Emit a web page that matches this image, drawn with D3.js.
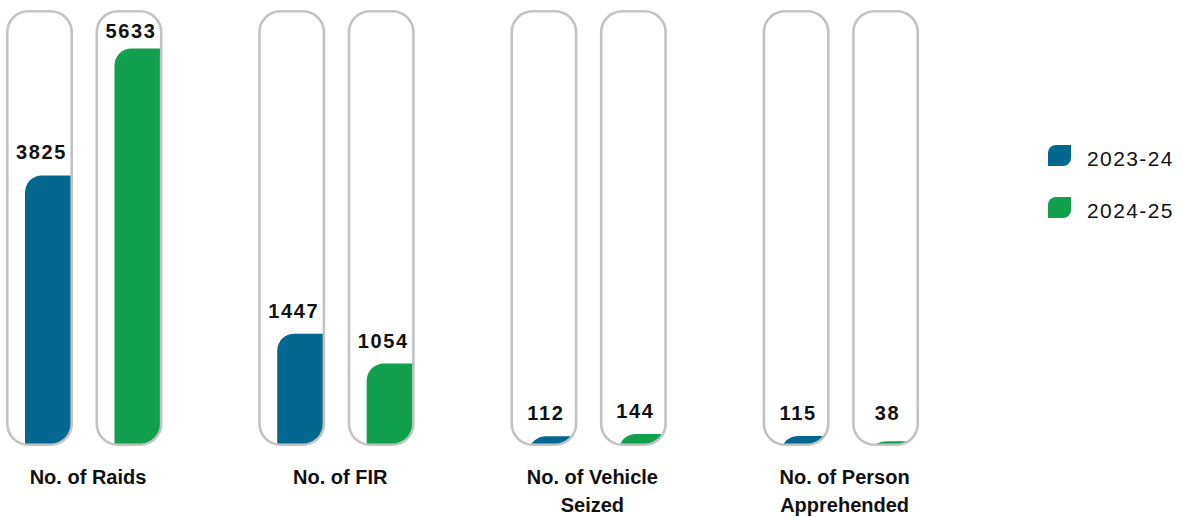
<!DOCTYPE html>
<html>
<head>
<meta charset="utf-8">
<script src="https://cdn.jsdelivr.net/npm/d3@7"></script>
<style>
  body { margin: 0; background: #fff; }
  svg { display: block; font-family: "Liberation Sans", Arial, sans-serif; }
</style>
</head>
<body>
<svg id="chart" width="1182" height="517"></svg>
<script>
// data
const categories = [["No. of Raids"], ["No. of FIR"], ["No. of Vehicle", "Seized"], ["No. of Person", "Apprehended"]];
const years = ["2023-24", "2024-25"];
const values2324 = [3825, 1447, 112, 115];
const values2425 = [5633, 1054, 144, 38];
// each panel has its own scale top
const groupMax = [6180, 5690, 6180, 6180];

const colors = { "2023-24": "#03688f", "2024-25": "#10a04e" };

const svg = d3.select("#chart");

const capW = 67, capR = 21, stroke = 2.6;
const capTop = 10, capBottom = 446;

const x0 = d3.scaleBand()
  .domain(d3.range(categories.length))
  .range([6, 6 + 252.2 * 4]);

const x1 = d3.scaleBand()
  .domain(years)
  .range([0, 156.5])
  .paddingInner(0.251);

// build rows
const rows = [];
categories.forEach((c, i) => {
  rows.push({ g: i, year: "2023-24", value: values2324[i] });
  rows.push({ g: i, year: "2024-25", value: values2425[i] });
});

const yScales = groupMax.map(m => d3.scaleLinear().domain([0, m]).range([capBottom - 2, capTop]));
const cx = d => x0(d.g) + x1(d.year);

const defs = svg.append("defs");

// leaf shape: rounded top-left corner
function leaf(x, y, w, h, rx, ry) {
  ry = Math.min(ry, h);
  return `M${x},${y + h} L${x},${y + ry} A${rx},${ry} 0 0 1 ${x + rx},${y} L${x + w},${y} L${x + w},${y + h} Z`;
}

defs.selectAll("clipPath")
  .data(rows)
  .enter()
  .append("clipPath")
  .attr("id", (d, i) => "clip" + i)
  .append("rect")
  .attr("x", d => cx(d) + stroke / 2)
  .attr("y", capTop + stroke / 2)
  .attr("width", capW - stroke)
  .attr("height", capBottom - capTop - stroke)
  .attr("rx", capR - stroke / 2);

// bars, clipped in capsule
svg.selectAll("path.bar")
  .data(rows)
  .enter()
  .append("path")
  .attr("class", "bar")
  .attr("clip-path", (d, i) => `url(#clip${i})`)
  .attr("fill", d => colors[d.year])
  .attr("d", d => {
    const y = yScales[d.g](d.value);
    const x = cx(d) + 19;
    return leaf(x, y, capW - 19, capBottom + 5 - y, 17, 17);
  });

const cell = svg.selectAll("g.cell")
  .data(rows)
  .enter()
  .append("g")
  .attr("class", "cell")
  .attr("transform", d => `translate(${cx(d)},0)`);

// capsules
cell.append("rect")
  .attr("x", stroke / 2)
  .attr("y", capTop + stroke / 2)
  .attr("width", capW - stroke)
  .attr("height", capBottom - capTop - stroke)
  .attr("rx", capR)
  .attr("fill", "none")
  .attr("stroke", "#c3c3c3")
  .attr("stroke-width", stroke);

// value labels
cell.append("text")
  .attr("x", capW / 2 + 2)
  .attr("y", d => Math.max(38, Math.min(420, yScales[d.g](d.value) - 16)))
  .attr("text-anchor", "middle")
  .attr("font-size", 20)
  .attr("font-weight", 700)
  .attr("letter-spacing", 1.6)
  .attr("fill", "#111")
  .text(d => d.value);

// category labels
const cat = svg.selectAll("text.cat")
  .data(categories)
  .enter()
  .append("text")
  .attr("class", "cat")
  .attr("text-anchor", "middle")
  .attr("font-size", 20)
  .attr("font-weight", 700)
  .attr("fill", "#111")
  .attr("transform", (d, i) => `translate(${x0(i) + 78 + 4},484)`);

cat.selectAll("tspan")
  .data(d => d)
  .enter()
  .append("tspan")
  .attr("x", 0)
  .attr("dy", (d, i) => i === 0 ? 0 : 28)
  .text(d => d);

// legend
const legend = svg.selectAll("g.legend")
  .data(years)
  .enter()
  .append("g")
  .attr("class", "legend")
  .attr("transform", (d, i) => `translate(1048,${145 + i * 52})`);

legend.append("path")
  .attr("fill", d => colors[d])
  .attr("d", "M0,21 L0,8 A8,8 0 0 1 8,0 L23,0 L23,13 A8,8 0 0 1 15,21 Z");

legend.append("text")
  .attr("x", 39)
  .attr("y", 21)
  .attr("font-size", 21)
  .attr("letter-spacing", 1.4)
  .attr("fill", "#111")
  .text(d => d);
</script>
</body>
</html>
